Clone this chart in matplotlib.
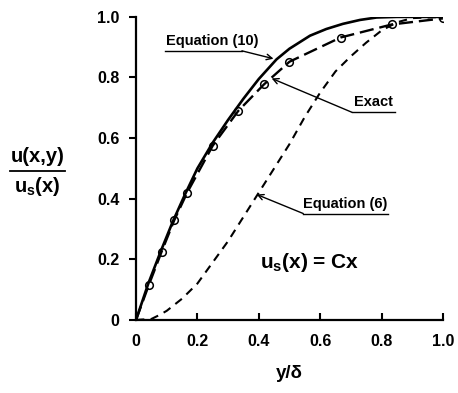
import numpy as np
import matplotlib
matplotlib.use("Agg")
import matplotlib.pyplot as plt
from matplotlib.lines import Line2D

plt.rcParams['font.family'] = ['Liberation Sans', 'DejaVu Sans']
plt.rcParams['font.weight'] = 'bold'
plt.rcParams['mathtext.fontset'] = 'custom'
plt.rcParams['mathtext.rm'] = 'Liberation Sans:bold'
plt.rcParams['mathtext.it'] = 'Liberation Sans:bold'
plt.rcParams['mathtext.bf'] = 'Liberation Sans:bold'

# Exact solution (circles + long dashes)
exact_x = [0, 1/24, 1/12, 1/8, 1/6, 1/4, 1/3, 5/12, 1/2, 2/3, 5/6, 1.0]
exact_y = [0, 0.115, 0.225, 0.33, 0.42, 0.575, 0.69, 0.777, 0.852, 0.932, 0.975, 0.995]

# Equation (10), solid
eq10_x = [0, 0.04, 0.08, 0.12, 0.16, 0.2, 0.25, 0.3, 0.35, 0.4, 0.458, 0.5,
          0.567, 0.62, 0.674, 0.73, 0.784, 0.85, 0.92, 1.0]
eq10_y = [0, 0.12, 0.225, 0.325, 0.415, 0.5, 0.585, 0.66, 0.73, 0.795, 0.86, 0.895,
          0.938, 0.96, 0.977, 0.99, 0.998, 1.0, 1.0, 1.0]

# Equation (6), short dashes
eq6_x = [0, 0.05, 0.078, 0.1, 0.15, 0.2, 0.25, 0.3, 0.35, 0.4, 0.45, 0.5, 0.55,
         0.6, 0.65, 0.7, 0.75, 0.8, 0.85, 0.9, 1.0]
eq6_y = [0, 0.003, 0.017, 0.03, 0.07, 0.12, 0.19, 0.26, 0.34, 0.42, 0.5, 0.58, 0.67,
         0.75, 0.82, 0.87, 0.915, 0.955, 0.982, 0.996, 1.0]

ticks = [0, 0.2, 0.4, 0.6, 0.8, 1.0]
tick_labels = ['0', '0.2', '0.4', '0.6', '0.8', '1.0']

fig = plt.figure(figsize=(4.58, 3.93), dpi=100)
ax = fig.add_axes([0.297, 0.186, 0.670, 0.771])

ax.plot(eq10_x, eq10_y, color='black', lw=1.9, solid_capstyle='round')
ax.plot(exact_x, exact_y, color='black', lw=1.7, dashes=(6, 2.5))
ax.plot(exact_x[1:], exact_y[1:], ls='none', marker='o', ms=5.5,
        mfc='none', mec='black', mew=1.1)
ax.plot(eq6_x, eq6_y, color='black', lw=1.5, dashes=(4, 3))

ax.set_xlim(0, 1.0)
ax.set_ylim(0, 1.0)
ax.set_xticks(ticks)
ax.set_xticklabels(tick_labels)
ax.set_yticks(ticks)
ax.set_yticklabels(tick_labels)
for s in ['top', 'right']:
    ax.spines[s].set_visible(False)
for s in ['left', 'bottom']:
    ax.spines[s].set_linewidth(1.6)
ax.tick_params(axis='x', direction='in', length=5, width=1.5, labelsize=11.5, pad=10)
ax.tick_params(axis='y', direction='out', length=5, width=1.5, labelsize=11.5, pad=7)
for lab in ax.get_xticklabels() + ax.get_yticklabels():
    lab.set_fontweight('bold')

ax.set_xlabel('y/δ', fontsize=13.5, fontweight='bold', labelpad=12)

# y label as a fraction
fig.text(0.082, 0.578, 'u(x,y)', fontsize=14.5, fontweight='bold', ha='center', va='bottom')
fig.text(0.082, 0.555, r'u$_{\rm s}$(x)', fontsize=14.5, fontweight='bold', ha='center', va='top')
fig.add_artist(Line2D([0.022, 0.142], [0.566, 0.566], color='black', lw=1.3,
                      transform=fig.transFigure))

ax.text(0.565, 0.19, r'u$_{\rm s}$(x) = Cx', fontsize=15, fontweight='bold',
        ha='center', va='center')

arrow = dict(arrowstyle='->', color='black', lw=1.0, shrinkA=0, shrinkB=0)

# Equation (10) label
ax.text(0.098, 0.898, 'Equation (10)', fontsize=10.5, fontweight='bold', ha='left', va='bottom')
ax.plot([0.095, 0.345], [0.888, 0.888], color='black', lw=1.0, clip_on=False)
ax.annotate('', xy=(0.448, 0.862), xytext=(0.345, 0.888), arrowprops=arrow)

# Exact label
ax.text(0.71, 0.695, 'Exact', fontsize=10.5, fontweight='bold', ha='left', va='bottom')
ax.plot([0.704, 0.845], [0.685, 0.685], color='black', lw=1.0)
ax.annotate('', xy=(0.442, 0.797), xytext=(0.704, 0.685), arrowprops=arrow)

# Equation (6) label
ax.text(0.545, 0.358, 'Equation (6)', fontsize=10.5, fontweight='bold', ha='left', va='bottom')
ax.plot([0.545, 0.82], [0.351, 0.351], color='black', lw=1.0)
ax.annotate('', xy=(0.393, 0.414), xytext=(0.545, 0.351), arrowprops=arrow)

fig.savefig('out.png', dpi=100)
